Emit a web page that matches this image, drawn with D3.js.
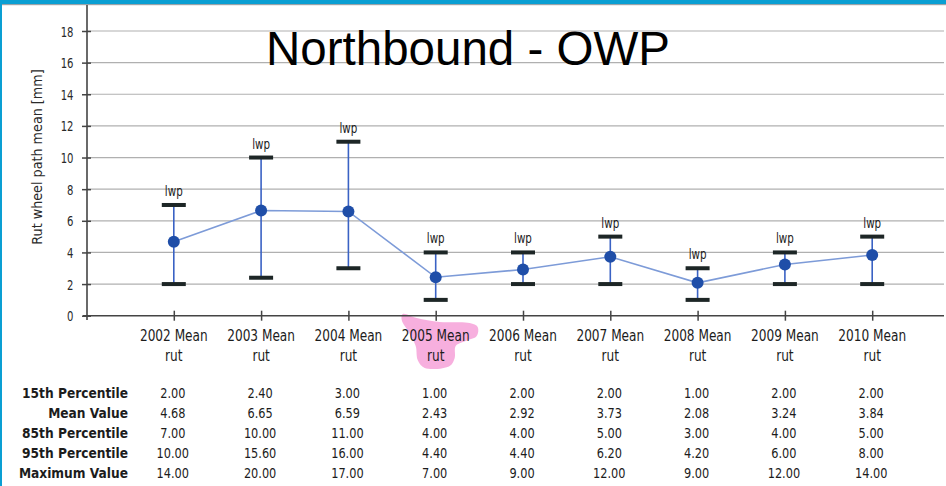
<!DOCTYPE html>
<html>
<head>
<meta charset="utf-8">
<script src="https://cdn.jsdelivr.net/npm/d3@7/dist/d3.min.js"></script>
<style>
  html, body { margin: 0; padding: 0; background: #fff; }
  svg { display: block; }
  .cond { font-family: "DejaVu Sans Condensed", "DejaVu Sans", sans-serif; }
</style>
</head>
<body>
<svg id="chart" width="946" height="486"></svg>
<script>
// Rut depth statistics, northbound outer wheel path, by survey year
const categories = ["2002", "2003", "2004", "2005", "2006", "2007", "2008", "2009", "2010"];
const p15   = [2.00, 2.40, 3.00, 1.00, 2.00, 2.00, 1.00, 2.00, 2.00];
const mean  = [4.68, 6.65, 6.59, 2.43, 2.92, 3.73, 2.08, 3.24, 3.84];
const p85   = [7.00, 10.00, 11.00, 4.00, 4.00, 5.00, 3.00, 4.00, 5.00];
const p95   = [10.00, 15.60, 16.00, 4.40, 4.40, 6.20, 4.20, 6.00, 8.00];
const maxV  = [14.00, 20.00, 17.00, 7.00, 9.00, 12.00, 9.00, 12.00, 14.00];
const yTicks = [0, 2, 4, 6, 8, 10, 12, 14, 16, 18];
const tableRows = [
  { label: "15th Percentile", values: p15 },
  { label: "Mean Value", values: mean },
  { label: "85th Percentile", values: p85 },
  { label: "95th Percentile", values: p95 },
  { label: "Maximum Value", values: maxV }
];
const highlighted = "2005";

const svg = d3.select("#chart");
const W = 946, H = 486;
const left = 87, right = 944;
const ink = "#1c1c1c";

const x = d3.scalePoint().domain(categories).range([86.5, 959.5]).padding(1);
const y = d3.scaleLinear().domain([0, 18]).range([315.7, 31]);

// narrow lettering: condensed face squeezed a little more horizontally
const squeeze = (px, py, sx) => `translate(${px},${py}) scale(${sx},1)`;

// slide frame: blue bar on top and thin blue edge on the left
svg.append("rect").attr("x", 0).attr("y", 0).attr("width", W).attr("height", 4).attr("fill", "#0a9fd3");
svg.append("rect").attr("x", 0).attr("y", 4).attr("width", W).attr("height", 1.2).attr("fill", "#9aa3a8");
svg.append("rect").attr("x", 0).attr("y", 0).attr("width", 2).attr("height", H).attr("fill", "#0a9fd3");

// highlighter stroke behind the 2005 label
const hx = x(highlighted);
const hl = [[-33, -2], [-19, 2], [4, 6], [34, 7], [42, 11], [41, 20], [30, 25], [20, 30], [19, 42], [14, 50],
            [-11, 52], [-18, 44], [-20, 30], [-27, 16], [-34, 4]];
svg.append("path")
  .attr("d", d3.line().curve(d3.curveCatmullRomClosed)(hl.map(p => [hx + p[0], 316 + p[1]])))
  .attr("fill", "#f6a8db").attr("opacity", 0.92);

// horizontal gridlines
svg.append("g").selectAll("line").data(yTicks.filter(t => t > 0)).join("line")
  .attr("x1", left).attr("x2", right)
  .attr("y1", d => y(d)).attr("y2", d => y(d))
  .attr("stroke", "#b0b0b0").attr("stroke-width", 1.2);

// y axis
const yAxis = svg.append("g").attr("transform", `translate(${left},0)`)
  .call(d3.axisLeft(y).tickValues(yTicks).tickSize(5).tickFormat(d3.format("d")));
yAxis.select(".domain").remove();
yAxis.selectAll(".tick line").attr("x1", -5).attr("x2", 4).attr("stroke", "#444").attr("stroke-width", 1.5);
yAxis.selectAll(".tick text").attr("class", "cond").attr("font-size", 14).attr("fill", "#2a2a2a")
  .attr("x", 0).attr("dy", "0.36em").attr("transform", squeeze(-13.5, 0, 0.8));
svg.append("line").attr("x1", left).attr("x2", left).attr("y1", 5).attr("y2", 320)
  .attr("stroke", "#444").attr("stroke-width", 1.6);

// x axis
svg.append("line").attr("x1", 83).attr("x2", right).attr("y1", y(0)).attr("y2", y(0))
  .attr("stroke", "#444").attr("stroke-width", 1.6);
const xAxis = svg.append("g").attr("transform", `translate(0,${y(0)})`)
  .call(d3.axisBottom(x).tickSize(5).tickFormat(""));
xAxis.select(".domain").remove();
xAxis.selectAll(".tick line").attr("y1", -5).attr("y2", 5).attr("stroke", "#444").attr("stroke-width", 1.5);

// category labels, two lines each
const catLab = svg.append("g").selectAll("text").data(categories).join("text")
  .attr("class", "cond").attr("text-anchor", "middle").attr("font-size", 15).attr("fill", ink)
  .attr("transform", d => squeeze(x(d), 341, 0.9));
catLab.append("tspan").attr("x", 0).text(d => d + " Mean");
catLab.append("tspan").attr("x", 0).attr("dy", 20).text("rut");

// y axis title
svg.append("text").attr("class", "cond").attr("font-size", 14.2).attr("fill", "#2a2a2a")
  .attr("text-anchor", "middle").attr("dominant-baseline", "central")
  .attr("transform", "translate(37,157) rotate(-90)")
  .text("Rut wheel path mean [mm]");

// title
svg.append("text").attr("x", 468).attr("y", 65).attr("text-anchor", "middle")
  .attr("font-family", "Liberation Sans, Arial, sans-serif").attr("font-size", 47.5).attr("fill", "#000")
  .text("Northbound - OWP");

// whiskers from 15th to 85th percentile
const idx = d3.range(categories.length);
svg.append("g").selectAll("line").data(idx).join("line")
  .attr("x1", i => x(categories[i])).attr("x2", i => x(categories[i]))
  .attr("y1", i => y(p15[i])).attr("y2", i => y(p85[i]))
  .attr("stroke", "#3a62c4").attr("stroke-width", 1.6);

// mean line
svg.append("path")
  .attr("d", d3.line().x(i => x(categories[i])).y(i => y(mean[i]))(idx))
  .attr("fill", "none").attr("stroke", "#7d9bd8").attr("stroke-width", 1.6);

// caps
const caps = svg.append("g");
[p15, p85].forEach(arr => {
  caps.append("g").selectAll("rect").data(idx).join("rect")
    .attr("x", i => x(categories[i]) - 12).attr("y", i => y(arr[i]) - 2)
    .attr("width", 24).attr("height", 4).attr("fill", "#1d2626");
});

// mean markers
svg.append("g").selectAll("circle").data(idx).join("circle")
  .attr("cx", i => x(categories[i])).attr("cy", i => y(mean[i])).attr("r", 6)
  .attr("fill", "#1f4ea8");

// point labels
svg.append("g").selectAll("text").data(idx).join("text")
  .attr("class", "cond").attr("font-size", 13.5).attr("fill", ink).attr("text-anchor", "middle")
  .attr("transform", i => squeeze(x(categories[i]), y(p85[i]) - 9, 0.85))
  .text("lwp");

// data table
const tbl = svg.append("g");
tableRows.forEach((row, r) => {
  const by = 398 + r * 20;
  tbl.append("text").attr("class", "cond").attr("font-size", 13.6).attr("font-weight", "bold")
    .attr("fill", ink).attr("text-anchor", "end").attr("x", 128).attr("y", by).text(row.label);
  tbl.append("g").selectAll("text").data(row.values).join("text")
    .attr("class", "cond").attr("font-size", 14).attr("fill", ink).attr("text-anchor", "middle")
    .attr("transform", (v, i) => squeeze(x(categories[i]) - 1, by, 0.9))
    .text(v => d3.format(".2f")(v));
});
</script>
</body>
</html>
